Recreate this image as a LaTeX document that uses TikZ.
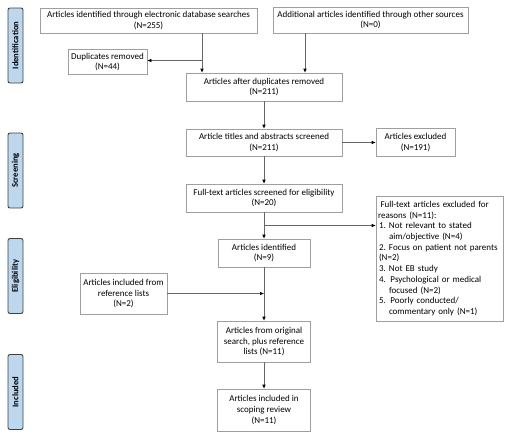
\documentclass[tikz,border=0pt]{standalone}
\usepackage{fontspec}
\setmainfont{Carlito}
\usetikzlibrary{arrows.meta,calc}
\definecolor{sidefill}{RGB}{189,215,238}
\begin{document}
\begin{tikzpicture}[x=1pt,y=-1pt,
  box/.style={draw=gray!75,line width=0.6pt,fill=white,inner sep=1pt,align=center,
    font=\fontsize{9}{10.8}\selectfont},
  side/.style={draw=black!75,line width=0.9pt,rounded corners=2pt,fill=sidefill,
    minimum width=15,minimum height=75,inner sep=0pt},
  sidetext/.style={rotate=90,font=\bfseries\fontsize{8.6}{9}\selectfont},
  arr/.style={draw=gray!80!black,line width=0.6pt,-{Latex[length=4pt,width=3.6pt,color=black]}}]
\useasboundingbox (0,0) rectangle (516,437);
% side labels
\node[side] (s1) at (15.5,45.5) {};
\node[sidetext] (t1) at (s1) {Identification};
\node[side] (s2) at (15.5,170.5) {};
\node[sidetext] (t2) at (s2) {Screening};
\node[side] (s3) at (15.5,276) {};
\node[sidetext] (t3) at (s3) {Eligibility};
\node[side] (s4) at (15.5,392) {};
\node[sidetext] (t4) at (s4) {Included};
% boxes
\node[box,minimum width=217,minimum height=25] (A) at (148.5,20.5) {Articles identified through electronic database searches\\(N=255)};
\node[box,minimum width=195,minimum height=26] (B) at (370.5,20) {Additional articles identified through other sources\\(N=0)};
\node[box,minimum width=79,minimum height=25] (Dup) at (107.5,62) {Duplicates removed\\(N=44)};
\node[box,minimum width=156,minimum height=28] (C) at (264,87) {Articles after duplicates removed\\(N=211)};
\node[box,minimum width=156,minimum height=27] (D) at (264,142.5) {Article titles and abstracts screened\\(N=211)};
\node[box,minimum width=79,minimum height=28] (Ex) at (415.5,142.5) {Articles excluded\\(N=191)};
\node[box,minimum width=156,minimum height=28] (E) at (264,198) {Full-text articles screened for eligibility\\(N=20)};
\node[box,minimum width=127,minimum height=125,align=left,text width=123,
  font=\fontsize{9}{10.7}\selectfont] (F) at (439.5,258.5) {%
\hspace*{2.5pt}Full-text articles excluded for\\
reasons (N=11):\\
\makebox[11pt][l]{\hspace*{1pt}1.}Not relevant to stated\\
\hspace*{11pt}aim/objective (N=4)\\
\makebox[11pt][l]{\hspace*{1pt}2.}Focus on patient not parents\\
\hspace*{1pt}(N=2)\\
\makebox[11pt][l]{\hspace*{1pt}3.}Not EB study\\
\makebox[11pt][l]{\hspace*{1pt}4.}\hspace*{1.5pt}Psychological or medical\\
\hspace*{11pt}focused (N=2)\\
\makebox[11pt][l]{\hspace*{1pt}5.}\hspace*{1.5pt}Poorly conducted/\\
\hspace*{11pt}commentary only (N=1)};
\node[box,minimum width=92,minimum height=28] (G) at (264,253) {Articles identified\\(N=9)};
\node[box,minimum width=87,minimum height=41] (H) at (123.5,293.5) {Articles included from\\reference lists\\(N=2)};
\node[box,minimum width=93,minimum height=41] (I) at (264,341.5) {Articles from original\\search, plus reference\\lists (N=11)};
\node[box,minimum width=93,minimum height=42] (J) at (264,410) {Articles included in\\scoping review\\(N=11)};
% arrows
\coordinate (ab) at ([xshift=53.5]A.south);
\coordinate (bb) at ([xshift=-65.5]B.south);
\coordinate (eg) at ($(E.south)!0.5!(G.north)$);
\draw[arr] (ab) -- (ab |- C.north);
\draw[arr] (ab |- 0,60.5) -- (Dup.east |- 0,60.5);
\draw[arr] (bb) -- (bb |- C.north);
\draw[arr] (C.south) -- (D.north);
\draw[arr] (D.east) -- (Ex.west);
\draw[arr] (D.south) -- (E.north);
\draw[arr] (E.south) -- (G.north);
\draw[arr] (eg) -- (eg -| F.west);
\draw[arr] (G.south) -- (G.south |- I.north);
\draw[arr] (H.east) -- (H.east -| G.south);
\draw[arr] (G.south |- I.south) -- (G.south |- J.north);
\end{tikzpicture}
\end{document}
